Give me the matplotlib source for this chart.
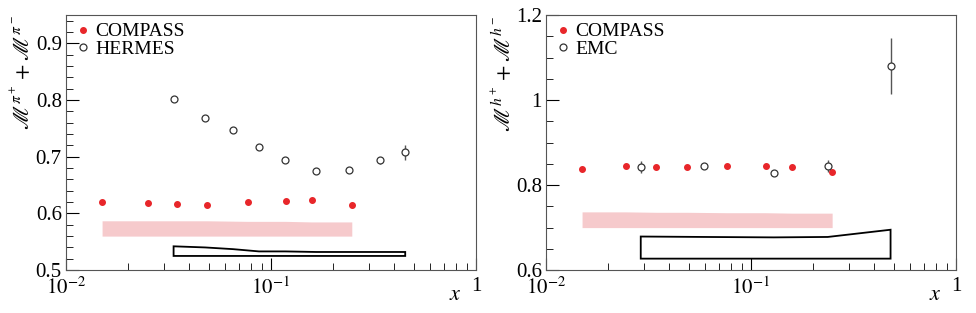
import numpy as np
import matplotlib.pyplot as plt
from matplotlib.lines import Line2D
from matplotlib.ticker import MultipleLocator, LogLocator, FixedLocator, FixedFormatter

plt.rcParams['font.family'] = ['Liberation Serif', 'DejaVu Serif']
plt.rcParams['mathtext.fontset'] = 'stix'

# left panel: pions
cmp_pi_x = [0.015, 0.025, 0.035, 0.049, 0.077, 0.118, 0.158, 0.248]
cmp_pi_y = [0.621, 0.619, 0.616, 0.614, 0.621, 0.622, 0.623, 0.615]
cmp_pi_e = [0.002, 0.002, 0.002, 0.002, 0.002, 0.003, 0.005, 0.005]
her_x = [0.0335, 0.0478, 0.0653, 0.0874, 0.1175, 0.166, 0.240, 0.340, 0.452]
her_y = [0.801, 0.769, 0.747, 0.717, 0.695, 0.674, 0.676, 0.694, 0.708]
her_e = [0.002, 0.002, 0.002, 0.002, 0.002, 0.002, 0.003, 0.006, 0.013]
cmp_pi_sys_lo = [0.560] * 8
cmp_pi_sys_hi = [0.587, 0.587, 0.587, 0.587, 0.586, 0.586, 0.585, 0.585]
her_sys_lo = [0.525] * 9
her_sys_hi = [0.542, 0.540, 0.537, 0.533, 0.533, 0.532, 0.532, 0.532, 0.532]

# right panel: hadrons
cmp_h_x = [0.015, 0.0246, 0.0345, 0.0487, 0.0766, 0.118, 0.158, 0.249]
cmp_h_y = [0.839, 0.844, 0.843, 0.842, 0.845, 0.844, 0.842, 0.830]
cmp_h_e = [0.002, 0.002, 0.002, 0.002, 0.002, 0.002, 0.003, 0.004]
emc_x = [0.029, 0.0589, 0.1295, 0.237, 0.48]
emc_y = [0.842, 0.845, 0.828, 0.845, 1.08]
emc_e = [0.014, 0.004, 0.006, 0.015, 0.066]
cmp_h_sys_lo = [0.700] * 8
cmp_h_sys_hi = [0.737, 0.737, 0.736, 0.736, 0.735, 0.735, 0.734, 0.734]
emc_sys_lo = [0.627] * 5
emc_sys_hi = [0.679, 0.678, 0.677, 0.678, 0.695]

red = '#e8262a'
pink = '#f6cacc'

fig = plt.figure(figsize=(9.76, 3.13), dpi=100)
axl = fig.add_axes([0.0676, 0.137, 0.420, 0.815])
axr = fig.add_axes([0.5594, 0.137, 0.420, 0.815])


def panel(ax, cx, cy, ce, clo, chi, ox, oy, oe, olo, ohi, oname, ylab, ylim, major, minor):
    ax.fill_between(cx, clo, chi, color=pink, lw=0)
    ax.fill(list(ox) + list(ox)[::-1], list(ohi) + list(olo)[::-1],
            facecolor='none', edgecolor='black', lw=1.3)
    ax.errorbar(cx, cy, yerr=ce, fmt='o', color=red, ms=4, lw=1)
    ax.errorbar(ox, oy, yerr=oe, fmt='o', mfc='white', mec='#333333', ecolor='#555555',
                ms=5, mew=0.9, lw=1)
    ax.set_xscale('log')
    ax.set_xlim(0.01, 1)
    ax.set_ylim(*ylim)
    ax.yaxis.set_major_locator(MultipleLocator(major))
    ax.yaxis.set_minor_locator(MultipleLocator(minor))
    ax.xaxis.set_major_locator(FixedLocator([0.01, 0.1, 1]))
    ax.xaxis.set_major_formatter(FixedFormatter([r'$10^{-2}$', r'$10^{-1}$', '1']))
    ax.xaxis.set_minor_locator(LogLocator(base=10, subs=np.arange(2, 10)))
    ax.tick_params(which='both', direction='in', labelsize=15, top=False, right=False)
    ax.tick_params(which='major', length=9)
    ax.tick_params(which='minor', length=5)
    ax.tick_params(axis='x', pad=5)
    ax.tick_params(axis='y', pad=3)
    for s in ax.spines.values():
        s.set_color('#555555')
    ax.set_ylabel(ylab, loc='top', fontsize=16, labelpad=0)
    ax.text(0.95, -0.1, r'$x$', transform=ax.transAxes, ha='center', va='center',
            fontsize=16)
    handles = [Line2D([], [], ls='none', marker='o', color=red, ms=4),
               Line2D([], [], ls='none', marker='o', mfc='white', mec='#333333',
                      ms=5, mew=0.9)]
    ax.legend(handles, ['COMPASS', oname], loc='upper left', frameon=False,
              fontsize=14, handletextpad=0.1, borderaxespad=0.2,
              labelspacing=0.0, handlelength=1.0, borderpad=0.2)


panel(axl, cmp_pi_x, cmp_pi_y, cmp_pi_e, cmp_pi_sys_lo, cmp_pi_sys_hi,
      her_x, her_y, her_e, her_sys_lo, her_sys_hi, 'HERMES',
      r'$\mathscr{M}^{\pi^+} + \mathscr{M}^{\pi^-}$', (0.5, 0.95), 0.1, 0.02)
panel(axr, cmp_h_x, cmp_h_y, cmp_h_e, cmp_h_sys_lo, cmp_h_sys_hi,
      emc_x, emc_y, emc_e, emc_sys_lo, emc_sys_hi, 'EMC',
      r'$\mathscr{M}^{h^+} + \mathscr{M}^{h^-}$', (0.6, 1.2), 0.2, 0.05)
axr.yaxis.set_major_locator(FixedLocator([0.6, 0.8, 1.0, 1.2]))
axr.yaxis.set_major_formatter(FixedFormatter(['0.6', '0.8', '1', '1.2']))

fig.savefig('out.png', dpi=100)
